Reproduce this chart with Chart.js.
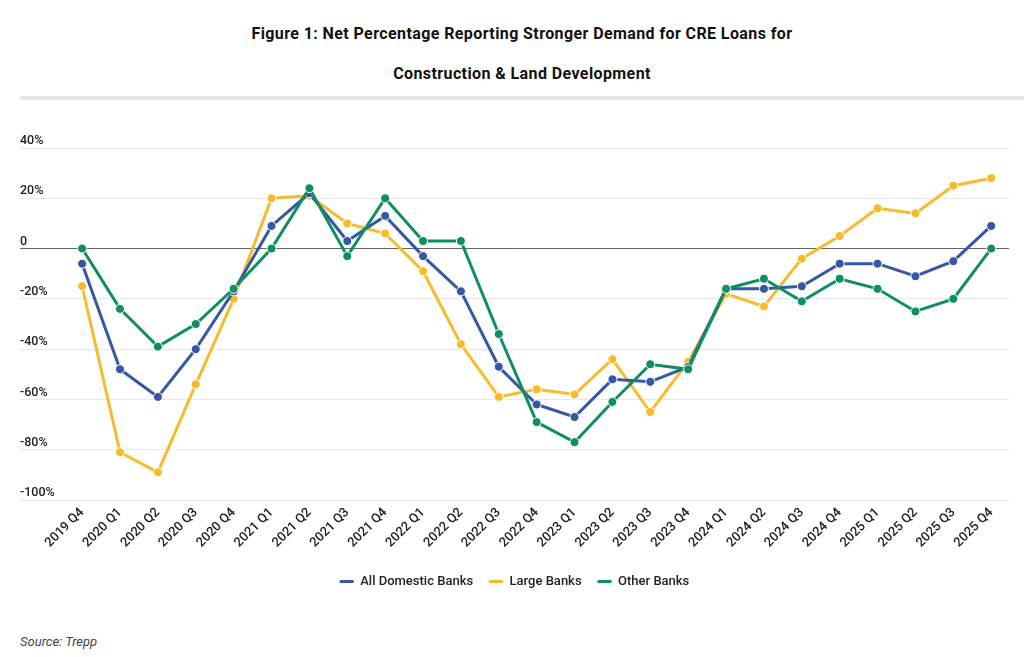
<!DOCTYPE html>
<html>
<head>
<meta charset="utf-8">
<script src="https://cdn.jsdelivr.net/npm/chart.js@4.4.1/dist/chart.umd.min.js"></script>
<style>
  html, body { margin: 0; padding: 0; background: #fff; }
  body { width: 1024px; height: 657px; position: relative; overflow: hidden; font-family: Roboto, "Noto Sans", sans-serif; }
  .title { position: absolute; left: 20px; right: 0; text-align: center; font-weight: 700; font-size: 16px; letter-spacing: 0.4px; color: #111; }
  .band { position: absolute; left: 20px; right: 0; top: 96px; height: 4px; background: #e6e6e6; }
  #wrap { position: absolute; left: 0; top: 110px; width: 1024px; height: 500px; }
  .source { position: absolute; left: 20px; top: 634px; font-style: italic; font-size: 13px; color: #444; }
</style>
</head>
<body>
<div class="title" style="top:24px">Figure 1: Net Percentage Reporting Stronger Demand for CRE Loans for</div>
<div class="title" style="top:64px">Construction &amp; Land Development</div>
<div class="band"></div>
<div id="wrap"><canvas id="creChart"></canvas></div>
<div class="source">Source: Trepp</div>

<script>
// quarters on the x axis
const quarters = ['2019 Q4',
  '2020 Q1', '2020 Q2', '2020 Q3', '2020 Q4',
  '2021 Q1', '2021 Q2', '2021 Q3', '2021 Q4',
  '2022 Q1', '2022 Q2', '2022 Q3', '2022 Q4',
  '2023 Q1', '2023 Q2', '2023 Q3', '2023 Q4',
  '2024 Q1', '2024 Q2', '2024 Q3', '2024 Q4',
  '2025 Q1', '2025 Q2', '2025 Q3', '2025 Q4'];

// net % reporting stronger demand
const allDomestic = [-6, -48, -59, -40, -17, 9, 22, 3, 13, -3, -17, -47, -62, -67, -52, -53, -47, -16, -16, -15, -6, -6, -11, -5, 9];
const largeBanks = [-15, -81, -89, -54, -20, 20, 21, 10, 6, -9, -38, -59, -56, -58, -44, -65, -45, -18, -23, -4, 5, 16, 14, 25, 28];
const otherBanks = [0, -24, -39, -30, -16, 0, 24, -3, 20, 3, 3, -34, -69, -77, -61, -46, -48, -16, -12, -21, -12, -16, -25, -20, 0];

const yTicks = [-100, -80, -60, -40, -20, 0, 20, 40];

function toPoints(values) {
  return values.map((v, i) => ({ x: i, y: v }));
}

function lineDataset(label, values, color, order) {
  return {
    label: label,
    data: toPoints(values),
    borderColor: color,
    backgroundColor: color,
    borderWidth: 3,
    pointRadius: 4.5,
    pointBackgroundColor: color,
    pointBorderColor: '#fff',
    pointBorderWidth: 1,
    tension: 0,
    order: order
  };
}

document.addEventListener('DOMContentLoaded', function () {
  const ctx = document.getElementById('creChart').getContext('2d');
  new Chart(ctx, {
    type: 'line',
    data: {
      datasets: [
        lineDataset('All Domestic Banks', allDomestic, '#3558a6', 2),
        lineDataset('Large Banks', largeBanks, '#f8bb2c', 3),
        lineDataset('Other Banks', otherBanks, '#0e8f62', 1)
      ]
    },
    options: {
      responsive: true,
      maintainAspectRatio: false,
      animation: false,
      layout: { padding: { top: 38, left: 20, right: 15, bottom: 12 } },
      scales: {
        x: {
          type: 'linear',
          min: -1.64,
          max: 24.47,
          grid: { display: false, drawTicks: false },
          border: { display: false },
          afterBuildTicks: function (scale) {
            scale.ticks = quarters.map((q, i) => ({ value: i }));
          },
          afterFit: function (scale) { scale.height = 59; },
          ticks: {
            autoSkip: false,
            minRotation: 45,
            maxRotation: 45,
            padding: 5,
            color: '#222',
            font: { family: 'Roboto', size: 13, weight: '500' },
            callback: function (v) { return quarters[v]; }
          }
        },
        y: {
          min: -100,
          max: 40,
          afterBuildTicks: function (scale) {
            scale.ticks = yTicks.map(v => ({ value: v }));
          },
          grid: {
            drawTicks: false,
            color: c => c.tick.value === 0 ? '#666' : '#e8e8e8',
            lineWidth: 1
          },
          border: { display: false },
          ticks: {
            mirror: true,
            padding: 0,
            labelOffset: -7,
            color: '#222',
            font: { family: 'Roboto', size: 12.5, weight: '500' },
            callback: v => v === 0 ? '0' : v + '%'
          }
        }
      },
      plugins: {
        title: { display: false },
        tooltip: { enabled: false },
        legend: {
          position: 'bottom',
          labels: {
            boxWidth: 14,
            boxHeight: 3,
            padding: 16,
            color: '#222',
            font: { family: 'Roboto', size: 13, weight: '500' },
            generateLabels: function (chart) {
              return Chart.defaults.plugins.legend.labels.generateLabels(chart)
                .sort((a, b) => a.datasetIndex - b.datasetIndex)
                .map(item => Object.assign(item, { fillStyle: item.strokeStyle, lineWidth: 0 }));
            }
          }
        }
      }
    }
  });
});
</script>
</body>
</html>
